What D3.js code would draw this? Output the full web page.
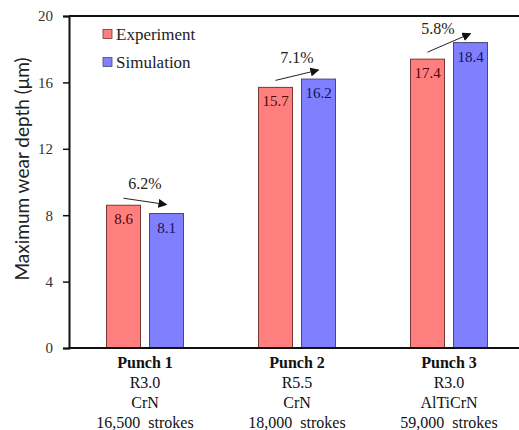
<!DOCTYPE html>
<html><head><meta charset="utf-8">
<script src="https://cdn.jsdelivr.net/npm/d3@7"></script>
<style>body{margin:0;background:#fff}svg{display:block}</style>
</head><body>
<script>
const categories = ["Punch 1","Punch 2","Punch 3"];
const radius = ["R3.0","R5.5","R3.0"];
const coating = ["CrN","CrN","AlTiCrN"];
const strokes = ["16,500  strokes","18,000  strokes","59,000  strokes"];
const seriesNames = ["Experiment","Simulation"];
const experiment = [8.6, 15.7, 17.4];
const simulation = [8.1, 16.2, 18.4];
const diffLabels = ["6.2%","7.1%","5.8%"];
const yTicks = [0,4,8,12,16,20];

const W=519,H=430;
const m={l:69,t:16,r:-6,b:82};
const svg=d3.select("body").append("svg").attr("width",W).attr("height",H);
const x=d3.scaleBand().domain(categories).range([m.l,W-m.r]).paddingInner(0).paddingOuter(0);
const y=d3.scaleLinear().domain([0,20]).range([H-m.b,m.t]);
const bw=34,gap=9;
const colors={Experiment:{fill:"#FF7F7F",stroke:"#7a3535",text:"#4a0a0a"},Simulation:{fill:"#7F7FFF",stroke:"#4a4a70",text:"#14145a"}};
const serif="Liberation Serif, Tinos, DejaVu Serif, serif";
const sans="Lato, Liberation Sans, sans-serif";

const data=[];
categories.forEach((c,i)=>{
  [experiment,simulation].forEach((arr,j)=>{
    const cx=x(c)+x.bandwidth()/2;
    const x0=j===0?cx-gap/2-bw:cx+gap/2;
    data.push({c,s:seriesNames[j],v:arr[i],x0});
  });
});

// bars
svg.selectAll("rect.bar").data(data).enter().append("rect")
  .attr("x",d=>d.x0).attr("width",bw)
  .attr("y",d=>y(d.v)).attr("height",d=>y(0)-y(d.v))
  .attr("fill",d=>colors[d.s].fill).attr("stroke",d=>colors[d.s].stroke).attr("stroke-width",1);

svg.selectAll("text.val").data(data).enter().append("text")
  .attr("x",d=>d.x0+bw/2).attr("y",d=>y(d.v)+19)
  .attr("text-anchor","middle").style("font-family",serif).attr("font-size",15)
  .attr("fill",d=>colors[d.s].text).text(d=>d.v.toFixed(1));

// axes
const yAxis=d3.axisLeft(y).tickValues(yTicks).tickSize(6).tickPadding(10).tickFormat(d3.format("d"));
const gy=svg.append("g").attr("transform",`translate(${m.l},0)`).call(yAxis);
gy.select(".domain").attr("stroke","#111").attr("stroke-width",2);
gy.selectAll(".tick line").attr("stroke","#111").attr("stroke-width",1.5);
gy.selectAll(".tick text").style("font-family",serif).attr("font-size",15).attr("fill","#333");
svg.append("line").attr("x1",m.l).attr("x2",W).attr("y1",y(0)).attr("y2",y(0)).attr("stroke","#111").attr("stroke-width",2);
svg.append("line").attr("x1",m.l).attr("x2",W).attr("y1",y(20)).attr("y2",y(20)).attr("stroke","#111").attr("stroke-width",2);

// y label
svg.append("text").attr("transform",`translate(24,169) rotate(-90)`)
  .attr("text-anchor","middle").attr("dominant-baseline","middle").style("font-family",sans).attr("font-size",19).attr("fill","#222")
  .text("Maximum wear depth (μm)");

// category labels
categories.forEach((c,i)=>{
  const cx=x(c)+x.bandwidth()/2;
  const lines=[c,radius[i],coating[i],strokes[i]];
  lines.forEach((t,k)=>{
    svg.append("text").attr("x",cx).attr("y",y(0)+20+k*20).attr("text-anchor","middle")
      .style("font-family",serif).attr("font-size",16).attr("font-weight",k===0?"bold":"normal")
      .attr("fill","#111").style("white-space","pre").text(t);
  });
});

// arrows
svg.append("defs").append("marker").attr("id","ah").attr("viewBox","0 0 10 10").attr("refX",9).attr("refY",5)
  .attr("markerWidth",9).attr("markerHeight",9).attr("markerUnits","userSpaceOnUse").attr("orient","auto")
  .append("path").attr("d","M0,0L10,5L0,10Z").attr("fill","#111");
categories.forEach((c,i)=>{
  const cx=x(c)+x.bandwidth()/2;
  const sx=cx-gap/2-bw/2, sy=y(experiment[i])-7;
  const ex=cx+gap/2+bw/2, ey=y(simulation[i])-9;
  svg.append("line").attr("x1",sx).attr("y1",sy).attr("x2",ex).attr("y2",ey)
    .attr("stroke","#222").attr("stroke-width",1).attr("marker-end","url(#ah)");
  const mx=(sx+ex)/2, my=(sy+ey)/2;
  let ly=my-12;
  let lx=mx;
  if(ly<m.t+18){ly=m.t+18;lx=mx-11;}
  svg.append("text").attr("x",lx).attr("y",ly).attr("text-anchor","middle")
    .style("font-family",serif).attr("font-size",16).attr("fill","#222").text(diffLabels[i]);
});

// legend
seriesNames.forEach((s,i)=>{
  const ly=34+i*28;
  svg.append("rect").attr("x",103).attr("y",ly-4.5).attr("width",9).attr("height",9)
    .attr("fill",colors[s].fill).attr("stroke",colors[s].stroke).attr("stroke-width",0.8);
  svg.append("text").attr("x",116).attr("y",ly+6).style("font-family",serif).attr("font-size",17)
    .attr("fill","#222").text(s);
});
</script>
</body></html>
